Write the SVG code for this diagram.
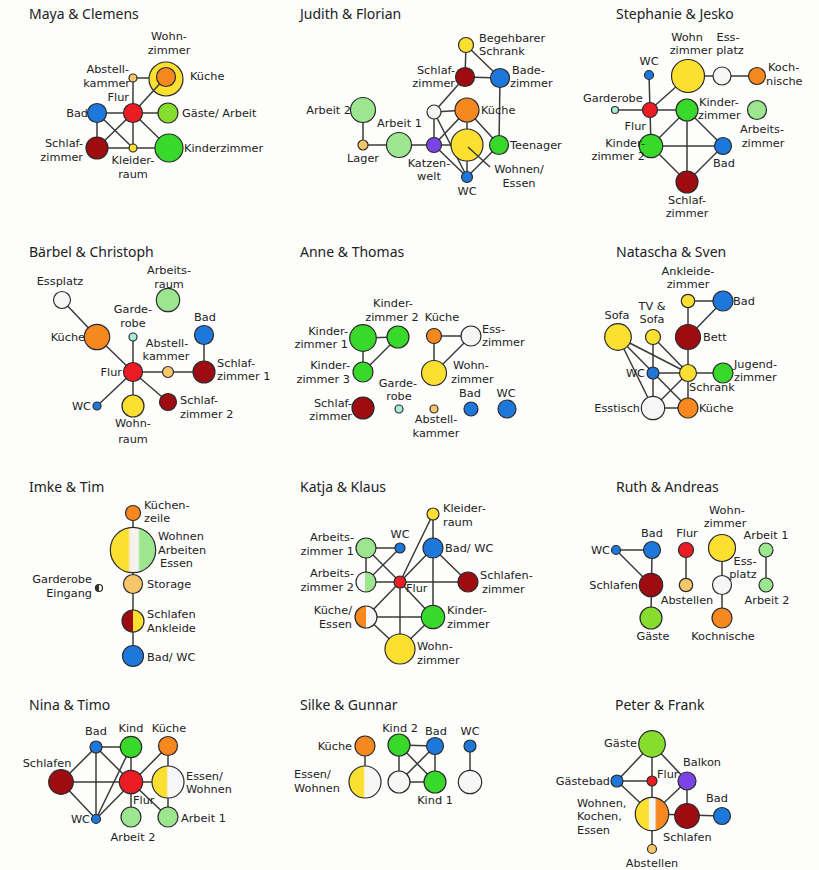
<svg xmlns="http://www.w3.org/2000/svg" width="819" height="870" viewBox="0 0 819 870">
  <defs>
    <style>
      .t { font-family: "Noto Sans", "Liberation Sans", sans-serif; font-size: 14px; fill: #222; }
      .l { font-family: "DejaVu Sans", "Liberation Sans", sans-serif; font-size: 11.3px; fill: #222; }
      .m { text-anchor: middle; }
      .e { text-anchor: end; }
      circle { stroke: #2b2b2b; stroke-width: 1.2; }
      #connectors line, .lead { stroke: #3a3a3a; stroke-width: 1.5; fill: none; }
      .red { fill: #ec1c24; }
      .dred { fill: #9e0b10; }
      .blue { fill: #1e78dc; }
      .yel { fill: #fbe032; }
      .org { fill: #f7881f; }
      .grn { fill: #38d92b; }
      .lime { fill: #86dd2d; }
      .lgrn { fill: #9be68f; }
      .pale { fill: #f6c66a; }
      .wht { fill: #f6f6f6; }
      .pur { fill: #7b45e6; }
      .cyan { fill: #a6ecd8; }
    </style>
    <linearGradient id="g-yw" x1="0" y1="0" x2="1" y2="0">
      <stop offset="0" stop-color="#fbe032"/><stop offset="0.45" stop-color="#fbe032"/>
      <stop offset="0.5" stop-color="#f6f6f6"/><stop offset="1" stop-color="#f6f6f6"/>
    </linearGradient>
    <linearGradient id="g-ow" x1="0" y1="0" x2="1" y2="0">
      <stop offset="0" stop-color="#f7881f"/><stop offset="0.5" stop-color="#f7881f"/>
      <stop offset="0.5" stop-color="#f6f6f6"/><stop offset="1" stop-color="#f6f6f6"/>
    </linearGradient>
    <linearGradient id="g-wg" x1="0" y1="0" x2="1" y2="0">
      <stop offset="0" stop-color="#f6f6f6"/><stop offset="0.45" stop-color="#f6f6f6"/>
      <stop offset="0.45" stop-color="#9be68f"/><stop offset="1" stop-color="#9be68f"/>
    </linearGradient>
    <linearGradient id="g-ry" x1="0" y1="0" x2="1" y2="0">
      <stop offset="0" stop-color="#9e0b10"/><stop offset="0.5" stop-color="#9e0b10"/>
      <stop offset="0.5" stop-color="#fbe032"/><stop offset="1" stop-color="#fbe032"/>
    </linearGradient>
    <linearGradient id="g-kw" x1="0" y1="0" x2="1" y2="0">
      <stop offset="0" stop-color="#333"/><stop offset="0.5" stop-color="#333"/>
      <stop offset="0.5" stop-color="#f6f6f6"/><stop offset="1" stop-color="#f6f6f6"/>
    </linearGradient>
    <linearGradient id="g-ywg" x1="0" y1="0" x2="1" y2="0">
      <stop offset="0" stop-color="#fbe032"/><stop offset="0.38" stop-color="#fbe032"/>
      <stop offset="0.45" stop-color="#f7f1f0"/><stop offset="0.6" stop-color="#f7f1f0"/>
      <stop offset="0.66" stop-color="#9be68f"/><stop offset="1" stop-color="#9be68f"/>
    </linearGradient>
    <linearGradient id="g-ywo" x1="0" y1="0" x2="1" y2="0">
      <stop offset="0" stop-color="#fbe032"/><stop offset="0.38" stop-color="#fbe032"/>
      <stop offset="0.44" stop-color="#f6f6f6"/><stop offset="0.58" stop-color="#f6f6f6"/>
      <stop offset="0.64" stop-color="#f7881f"/><stop offset="1" stop-color="#f7881f"/>
    </linearGradient>
  </defs>

  <rect width="819" height="870" fill="#fdfdfc"/>

  <!-- panel titles -->
  <g id="titles">
    <text class="t" x="29" y="19">Maya &amp; Clemens</text>
    <text class="t" x="300" y="19">Judith &amp; Florian</text>
    <text class="t" x="616" y="19">Stephanie &amp; Jesko</text>
    <text class="t" x="29" y="257">Bärbel &amp; Christoph</text>
    <text class="t" x="300" y="257">Anne &amp; Thomas</text>
    <text class="t" x="616" y="257">Natascha &amp; Sven</text>
    <text class="t" x="29" y="492">Imke &amp; Tim</text>
    <text class="t" x="300" y="492">Katja &amp; Klaus</text>
    <text class="t" x="616" y="492">Ruth &amp; Andreas</text>
    <text class="t" x="29" y="710">Nina &amp; Timo</text>
    <text class="t" x="300" y="710">Silke &amp; Gunnar</text>
    <text class="t" x="615" y="710">Peter &amp; Frank</text>
  </g>

  <!-- outer ring drawn below the connectors so the Flur edge crosses it -->
  <g id="mc-wohnzimmer">
    <circle class="yel" cx="166" cy="79" r="17"/>
    <text class="l m"><tspan x="169" y="40">Wohn-</tspan><tspan x="169" y="54">zimmer</tspan></text>
  </g>

  <g id="connectors">
    <!-- Maya & Clemens -->
    <line x1="133" y1="78" x2="149" y2="78"/>
    <line x1="133" y1="78" x2="133" y2="113"/>
    <line x1="133" y1="113" x2="166" y2="77"/>
    <line x1="97" y1="113" x2="168" y2="113"/>
    <line x1="97" y1="113" x2="97" y2="148"/>
    <line x1="97" y1="113" x2="133" y2="148"/>
    <line x1="133" y1="113" x2="97" y2="148"/>
    <line x1="133" y1="113" x2="133" y2="148"/>
    <line x1="133" y1="113" x2="169" y2="148"/>
    <line x1="97" y1="148" x2="169" y2="148"/>
    <!-- Judith & Florian -->
    <line x1="466" y1="45" x2="465" y2="77"/>
    <line x1="466" y1="45" x2="500" y2="78"/>
    <line x1="465" y1="77" x2="500" y2="78"/>
    <line x1="465" y1="77" x2="434" y2="112"/>
    <line x1="500" y1="78" x2="499" y2="145"/>
    <line x1="434" y1="112" x2="467" y2="110"/>
    <line x1="434" y1="112" x2="434" y2="145"/>
    <line x1="434" y1="112" x2="467" y2="177"/>
    <line x1="434" y1="145" x2="467" y2="110"/>
    <line x1="434" y1="145" x2="467" y2="145"/>
    <line x1="467" y1="110" x2="499" y2="145"/>
    <line x1="467" y1="110" x2="467" y2="177"/>
    <line x1="434" y1="145" x2="467" y2="177"/>
    <line x1="499" y1="145" x2="467" y2="177"/>
    <line x1="363" y1="110" x2="363" y2="145"/>
    <line x1="363" y1="145" x2="434" y2="145"/>
    <!-- Stephanie & Jesko -->
    <line x1="688" y1="76" x2="757" y2="76"/>
    <line x1="649" y1="75" x2="650" y2="110"/>
    <line x1="615" y1="110" x2="687" y2="110"/>
    <line x1="650" y1="110" x2="688" y2="76"/>
    <line x1="650" y1="110" x2="651" y2="146"/>
    <line x1="687" y1="110" x2="651" y2="146"/>
    <line x1="687" y1="110" x2="723" y2="146"/>
    <line x1="687" y1="110" x2="687" y2="182"/>
    <line x1="651" y1="146" x2="723" y2="146"/>
    <line x1="651" y1="146" x2="687" y2="182"/>
    <line x1="723" y1="146" x2="687" y2="182"/>
    <!-- Bärbel & Christoph -->
    <line x1="62" y1="300" x2="97" y2="337"/>
    <line x1="97" y1="337" x2="133" y2="372"/>
    <line x1="133" y1="337" x2="133" y2="406"/>
    <line x1="133" y1="372" x2="204" y2="372"/>
    <line x1="204" y1="335" x2="204" y2="372"/>
    <line x1="133" y1="372" x2="97" y2="406"/>
    <line x1="133" y1="372" x2="168" y2="402"/>
    <!-- Anne & Thomas -->
    <line x1="363" y1="338" x2="398" y2="337"/>
    <line x1="363" y1="338" x2="363" y2="372"/>
    <line x1="398" y1="337" x2="363" y2="372"/>
    <line x1="434" y1="336" x2="471" y2="336"/>
    <line x1="434" y1="336" x2="434" y2="373"/>
    <line x1="471" y1="336" x2="434" y2="373"/>
    <!-- Natascha & Sven -->
    <line x1="688" y1="301" x2="723" y2="301"/>
    <line x1="688" y1="301" x2="688" y2="373"/>
    <line x1="723" y1="301" x2="688" y2="337"/>
    <line x1="618" y1="337" x2="688" y2="373"/>
    <line x1="618" y1="337" x2="688" y2="408"/>
    <line x1="618" y1="337" x2="653" y2="408"/>
    <line x1="653" y1="337" x2="653" y2="408"/>
    <line x1="653" y1="337" x2="688" y2="373"/>
    <line x1="653" y1="373" x2="723" y2="373"/>
    <line x1="688" y1="373" x2="653" y2="408"/>
    <line x1="688" y1="373" x2="688" y2="408"/>
    <line x1="653" y1="408" x2="688" y2="408"/>
    <!-- Imke & Tim -->
    <line x1="133" y1="513" x2="133" y2="656"/>
    <!-- Katja & Klaus -->
    <line x1="366" y1="548" x2="400" y2="548"/>
    <line x1="366" y1="548" x2="366" y2="582"/>
    <line x1="366" y1="548" x2="400" y2="582"/>
    <line x1="400" y1="548" x2="366" y2="582"/>
    <line x1="433" y1="514" x2="400" y2="582"/>
    <line x1="433" y1="514" x2="433" y2="617"/>
    <line x1="433" y1="548" x2="400" y2="582"/>
    <line x1="433" y1="548" x2="468" y2="582"/>
    <line x1="366" y1="582" x2="468" y2="582"/>
    <line x1="400" y1="582" x2="366" y2="617"/>
    <line x1="400" y1="582" x2="433" y2="617"/>
    <line x1="400" y1="582" x2="400" y2="649"/>
    <line x1="366" y1="617" x2="433" y2="617"/>
    <line x1="366" y1="617" x2="400" y2="649"/>
    <line x1="433" y1="617" x2="400" y2="649"/>
    <!-- Ruth & Andreas -->
    <line x1="616" y1="550" x2="652" y2="550"/>
    <line x1="616" y1="550" x2="651" y2="585"/>
    <line x1="652" y1="550" x2="651" y2="618"/>
    <line x1="686" y1="550" x2="686" y2="585"/>
    <line x1="722" y1="548" x2="722" y2="618"/>
    <line x1="766" y1="550" x2="766" y2="585"/>
    <!-- Nina & Timo -->
    <line x1="96" y1="747" x2="131" y2="747"/>
    <line x1="96" y1="747" x2="61" y2="782"/>
    <line x1="96" y1="747" x2="96" y2="819"/>
    <line x1="96" y1="747" x2="131" y2="782"/>
    <line x1="61" y1="782" x2="168" y2="782"/>
    <line x1="61" y1="782" x2="96" y2="819"/>
    <line x1="131" y1="747" x2="131" y2="817"/>
    <line x1="131" y1="747" x2="96" y2="819"/>
    <line x1="96" y1="819" x2="168" y2="746"/>
    <line x1="168" y1="746" x2="168" y2="817"/>
    <line x1="131" y1="782" x2="168" y2="817"/>
    <!-- Silke & Gunnar -->
    <line x1="365" y1="746" x2="365" y2="782"/>
    <line x1="399" y1="745" x2="435" y2="746"/>
    <line x1="399" y1="745" x2="399" y2="782"/>
    <line x1="399" y1="745" x2="435" y2="782"/>
    <line x1="435" y1="746" x2="399" y2="782"/>
    <line x1="435" y1="746" x2="435" y2="782"/>
    <line x1="399" y1="782" x2="435" y2="782"/>
    <line x1="470" y1="746" x2="470" y2="782"/>
    <!-- Peter & Frank -->
    <line x1="652" y1="744" x2="617" y2="781"/>
    <line x1="652" y1="744" x2="652" y2="849"/>
    <line x1="652" y1="744" x2="687" y2="781"/>
    <line x1="617" y1="781" x2="652" y2="781"/>
    <line x1="617" y1="781" x2="652" y2="814"/>
    <line x1="687" y1="781" x2="652" y2="814"/>
    <line x1="687" y1="781" x2="687" y2="816"/>
    <line x1="652" y1="814" x2="722" y2="816"/>
  </g>

  <!-- Maya & Clemens -->
  <g id="mc-kueche"><circle class="org" cx="166" cy="77" r="9.5"/><text class="l" x="190" y="80">Küche</text></g>
  <g id="mc-abstell"><circle class="pale" cx="133" cy="78" r="4"/><text class="l e"><tspan x="129" y="73">Abstell-</tspan><tspan x="130" y="86.5">kammer</tspan></text></g>
  <g id="mc-flur"><circle class="red" cx="133" cy="113" r="9.5"/><text class="l e" x="129" y="101">Flur</text></g>
  <g id="mc-bad"><circle class="blue" cx="97" cy="113" r="9.5"/><text class="l e" x="88" y="117">Bad</text></g>
  <g id="mc-gaeste"><circle class="lime" cx="168" cy="113" r="10"/><text class="l" x="182" y="117">Gäste/ Arbeit</text></g>
  <g id="mc-schlaf"><circle class="dred" cx="97" cy="148" r="11"/><text class="l e"><tspan x="83" y="147">Schlaf-</tspan><tspan x="83" y="161">zimmer</tspan></text></g>
  <g id="mc-kleider"><circle class="yel" cx="133" cy="148" r="4"/><text class="l m"><tspan x="133" y="164">Kleider-</tspan><tspan x="133" y="178">raum</tspan></text></g>
  <g id="mc-kinder"><circle class="grn" cx="169" cy="148" r="14"/><text class="l" x="184" y="152">Kinderzimmer</text></g>

  <!-- Judith & Florian -->
  <g id="jf-schrank"><circle class="yel" cx="466" cy="45" r="7.5"/><text class="l"><tspan x="479" y="41.5">Begehbarer</tspan><tspan x="479" y="55">Schrank</tspan></text></g>
  <g id="jf-schlaf"><circle class="dred" cx="465" cy="77" r="9.5"/><text class="l e"><tspan x="455" y="73.5">Schlaf-</tspan><tspan x="455" y="87">zimmer</tspan></text></g>
  <g id="jf-bad"><circle class="blue" cx="500" cy="78" r="9.5"/><text class="l"><tspan x="512" y="73.5">Bade-</tspan><tspan x="510" y="87">zimmer</tspan></text></g>
  <g id="jf-leer"><circle class="wht" cx="434" cy="112" r="7"/></g>
  <g id="jf-kueche"><circle class="org" cx="467" cy="110" r="12"/><text class="l" x="481" y="114">Küche</text></g>
  <g id="jf-arbeit2"><circle class="lgrn" cx="363" cy="110" r="12.5"/><text class="l e" x="351" y="114">Arbeit 2</text></g>
  <g id="jf-lager"><circle class="pale" cx="363" cy="145" r="5"/><text class="l m" x="363" y="162">Lager</text></g>
  <g id="jf-arbeit1"><circle class="lgrn" cx="399" cy="145" r="12.5"/><text class="l" x="377" y="127">Arbeit 1</text></g>
  <g id="jf-katzen"><circle class="pur" cx="434" cy="145" r="7.5"/><text class="l m"><tspan x="429" y="166.5">Katzen-</tspan><tspan x="429" y="180">welt</tspan></text></g>
  <g id="jf-wohnen"><circle class="yel" cx="467" cy="145" r="16"/><path class="lead" d="M468 147 L490 167"/><text class="l m"><tspan x="519" y="173">Wohnen/</tspan><tspan x="519" y="187">Essen</tspan></text></g>
  <g id="jf-teen"><circle class="grn" cx="499" cy="145" r="9.5"/><text class="l" x="510" y="149">Teenager</text></g>
  <g id="jf-wc"><circle class="blue" cx="467" cy="177" r="5.5"/><text class="l m" x="467" y="195">WC</text></g>

  <!-- Stephanie & Jesko -->
  <g id="sj-wohn"><circle class="yel" cx="688" cy="76" r="16.5"/><text class="l m"><tspan x="687" y="40.5">Wohn</tspan><tspan x="691" y="54">zimmer</tspan></text></g>
  <g id="sj-ess"><circle class="wht" cx="722" cy="76" r="9"/><text class="l m"><tspan x="728" y="40.5">Ess-</tspan><tspan x="730" y="54">platz</tspan></text></g>
  <g id="sj-koch"><circle class="org" cx="757" cy="76" r="8.5"/><text class="l"><tspan x="768" y="71">Koch-</tspan><tspan x="766" y="85">nische</tspan></text></g>
  <g id="sj-wc"><circle class="blue" cx="649" cy="75" r="4.5"/><text class="l m" x="649" y="65">WC</text></g>
  <g id="sj-garderobe"><circle class="cyan" cx="615" cy="110" r="3.5"/><text class="l" x="583" y="102">Garderobe</text></g>
  <g id="sj-flur"><circle class="red" cx="650" cy="110" r="7.5"/><text class="l e" x="646" y="130">Flur</text></g>
  <g id="sj-kinder"><circle class="grn" cx="687" cy="110" r="11"/><text class="l"><tspan x="699" y="105.5">Kinder-</tspan><tspan x="698" y="119">zimmer</tspan></text></g>
  <g id="sj-arbeit"><circle class="lgrn" cx="757" cy="110" r="9.5"/><text class="l m"><tspan x="762" y="133">Arbeits-</tspan><tspan x="763" y="147">zimmer</tspan></text></g>
  <g id="sj-kinder2"><circle class="grn" cx="651" cy="146" r="11.7"/><text class="l e"><tspan x="645" y="146.5">Kinder-</tspan><tspan x="645" y="160">zimmer 2</tspan></text></g>
  <g id="sj-bad"><circle class="blue" cx="723" cy="146" r="8.5"/><text class="l m" x="724" y="167">Bad</text></g>
  <g id="sj-schlaf"><circle class="dred" cx="687" cy="182" r="11"/><text class="l m"><tspan x="687" y="203.5">Schlaf-</tspan><tspan x="687" y="217">zimmer</tspan></text></g>

  <!-- Bärbel & Christoph -->
  <g id="bc-ess"><circle class="wht" cx="62" cy="300" r="8.5"/><text class="l m" x="60" y="285">Essplatz</text></g>
  <g id="bc-arbeit"><circle class="lgrn" cx="168" cy="300" r="11.7"/><text class="l m"><tspan x="169" y="274">Arbeits-</tspan><tspan x="169" y="288">raum</tspan></text></g>
  <g id="bc-garderobe"><circle class="cyan" cx="133" cy="337" r="4"/><text class="l m"><tspan x="133" y="313">Garde-</tspan><tspan x="133" y="327">robe</tspan></text></g>
  <g id="bc-bad"><circle class="blue" cx="204" cy="335" r="9.5"/><text class="l m" x="205" y="321">Bad</text></g>
  <g id="bc-kueche"><circle class="org" cx="97" cy="337" r="12.7"/><text class="l e" x="85" y="341">Küche</text></g>
  <g id="bc-flur"><circle class="red" cx="133" cy="372" r="9.5"/><text class="l e" x="122" y="376">Flur</text></g>
  <g id="bc-abstell"><circle class="pale" cx="168" cy="372" r="5.5"/><text class="l m"><tspan x="167" y="346.5">Abstell-</tspan><tspan x="166" y="360">kammer</tspan></text></g>
  <g id="bc-schlaf1"><circle class="dred" cx="204" cy="372" r="11"/><text class="l"><tspan x="217" y="366.5">Schlaf-</tspan><tspan x="217" y="380">zimmer 1</tspan></text></g>
  <g id="bc-wc"><circle class="blue" cx="97" cy="406" r="4"/><text class="l e" x="91" y="410">WC</text></g>
  <g id="bc-wohn"><circle class="yel" cx="133" cy="406" r="11"/><text class="l m"><tspan x="133" y="427">Wohn-</tspan><tspan x="133" y="443">raum</tspan></text></g>
  <g id="bc-schlaf2"><circle class="dred" cx="168" cy="402" r="8.5"/><text class="l"><tspan x="180" y="404">Schlaf-</tspan><tspan x="180" y="418">zimmer 2</tspan></text></g>

  <!-- Anne & Thomas -->
  <g id="at-kinder1"><circle class="grn" cx="363" cy="338" r="13.3"/><text class="l e"><tspan x="348" y="334.5">Kinder-</tspan><tspan x="348" y="348">zimmer 1</tspan></text></g>
  <g id="at-kinder2"><circle class="grn" cx="398" cy="337" r="11"/><text class="l m"><tspan x="393" y="307">Kinder-</tspan><tspan x="392" y="321">zimmer 2</tspan></text></g>
  <g id="at-kueche"><circle class="org" cx="434" cy="336" r="7.5"/><text class="l m" x="442" y="321">Küche</text></g>
  <g id="at-ess"><circle class="wht" cx="471" cy="336" r="10"/><text class="l"><tspan x="482" y="332.5">Ess-</tspan><tspan x="482" y="346">zimmer</tspan></text></g>
  <g id="at-kinder3"><circle class="grn" cx="363" cy="372" r="10"/><text class="l e"><tspan x="350" y="369">Kinder-</tspan><tspan x="350" y="383">zimmer 3</tspan></text></g>
  <g id="at-wohn"><circle class="yel" cx="434" cy="373" r="12.5"/><text class="l"><tspan x="453" y="369">Wohn-</tspan><tspan x="451" y="383">zimmer</tspan></text></g>
  <g id="at-garderobe"><circle class="cyan" cx="399" cy="409" r="4"/><text class="l m"><tspan x="398" y="386.5">Garde-</tspan><tspan x="399" y="400">robe</tspan></text></g>
  <g id="at-abstell"><circle class="pale" cx="434" cy="409" r="4"/><text class="l m"><tspan x="436" y="423">Abstell-</tspan><tspan x="436" y="437">kammer</tspan></text></g>
  <g id="at-bad"><circle class="blue" cx="471" cy="409" r="7"/><text class="l m" x="470" y="397">Bad</text></g>
  <g id="at-wc"><circle class="blue" cx="507" cy="409" r="9"/><text class="l m" x="506" y="397">WC</text></g>
  <g id="at-schlaf"><circle class="dred" cx="363" cy="408" r="11"/><text class="l e"><tspan x="352" y="406.5">Schlaf-</tspan><tspan x="352" y="420">zimmer</tspan></text></g>

  <!-- Natascha & Sven -->
  <g id="ns-ankleide"><circle class="yel" cx="688" cy="301" r="6.7"/><text class="l m"><tspan x="688" y="274.5">Ankleide-</tspan><tspan x="688" y="288">zimmer</tspan></text></g>
  <g id="ns-bad"><circle class="blue" cx="723" cy="301" r="10"/><text class="l" x="733" y="305">Bad</text></g>
  <g id="ns-sofa"><circle class="yel" cx="618" cy="337" r="13.3"/><text class="l m" x="617" y="319">Sofa</text></g>
  <g id="ns-tv"><circle class="yel" cx="653" cy="337" r="7.5"/><text class="l m"><tspan x="652" y="309.5">TV &amp;</tspan><tspan x="652" y="323">Sofa</tspan></text></g>
  <g id="ns-bett"><circle class="dred" cx="688" cy="337" r="12.5"/><text class="l" x="703" y="341">Bett</text></g>
  <g id="ns-wc"><circle class="blue" cx="653" cy="373" r="6"/><text class="l e" x="645" y="377">WC</text></g>
  <g id="ns-schrank"><circle class="yel" cx="688" cy="373" r="8.5"/><text class="l" x="689" y="391">Schrank</text></g>
  <g id="ns-jugend"><circle class="grn" cx="723" cy="373" r="10"/><text class="l"><tspan x="734" y="367.5">Jugend-</tspan><tspan x="734" y="381">zimmer</tspan></text></g>
  <g id="ns-esstisch"><circle class="wht" cx="653" cy="408" r="11.7"/><text class="l e" x="640" y="412">Esstisch</text></g>
  <g id="ns-kueche"><circle class="org" cx="688" cy="408" r="10"/><text class="l" x="699" y="412">Küche</text></g>

  <!-- Imke & Tim -->
  <g id="it-kueche"><circle class="org" cx="133" cy="513" r="7.5"/><text class="l"><tspan x="144" y="508.5">Küchen-</tspan><tspan x="144" y="522">zeile</tspan></text></g>
  <g id="it-wohnen"><circle fill="url(#g-ywg)" cx="133" cy="550" r="22.7"/><text class="l"><tspan x="158" y="540">Wohnen</tspan><tspan x="158" y="553.5">Arbeiten</tspan><tspan x="160" y="567">Essen</tspan></text></g>
  <g id="it-storage"><circle class="pale" cx="133" cy="584" r="9.5"/><text class="l" x="147" y="588">Storage</text></g>
  <g id="it-garderobe"><circle fill="url(#g-kw)" cx="99" cy="588" r="3.5"/><text class="l e"><tspan x="92" y="583">Garderobe</tspan><tspan x="92" y="597">Eingang</tspan></text></g>
  <g id="it-schlafen"><circle fill="url(#g-ry)" cx="133" cy="621" r="11"/><text class="l"><tspan x="147" y="618">Schlafen</tspan><tspan x="147" y="632">Ankleide</tspan></text></g>
  <g id="it-bad"><circle class="blue" cx="133" cy="656" r="10.5"/><text class="l" x="147" y="661">Bad/ WC</text></g>

  <!-- Katja & Klaus -->
  <g id="kk-kleider"><circle class="yel" cx="433" cy="514" r="6"/><text class="l"><tspan x="443" y="512">Kleider-</tspan><tspan x="443" y="526">raum</tspan></text></g>
  <g id="kk-wc"><circle class="blue" cx="400" cy="548" r="5"/><text class="l m" x="400" y="538">WC</text></g>
  <g id="kk-arbeit1"><circle class="lgrn" cx="366" cy="548" r="10"/><text class="l e"><tspan x="354" y="541">Arbeits-</tspan><tspan x="354" y="555">zimmer 1</tspan></text></g>
  <g id="kk-badwc"><circle class="blue" cx="433" cy="548" r="10"/><text class="l" x="445" y="552">Bad/ WC</text></g>
  <g id="kk-arbeit2"><circle fill="url(#g-wg)" cx="366" cy="582" r="10"/><text class="l e"><tspan x="354" y="577">Arbeits-</tspan><tspan x="354" y="591">zimmer 2</tspan></text></g>
  <g id="kk-flur"><circle class="red" cx="400" cy="582" r="6"/><text class="l" x="406" y="592">Flur</text></g>
  <g id="kk-schlafen"><circle class="dred" cx="468" cy="582" r="10"/><text class="l"><tspan x="480" y="579">Schlafen-</tspan><tspan x="482" y="593">zimmer</tspan></text></g>
  <g id="kk-kueche"><circle fill="url(#g-ow)" cx="366" cy="617" r="11"/><text class="l e"><tspan x="352" y="614">Küche/</tspan><tspan x="352" y="628">Essen</tspan></text></g>
  <g id="kk-kinder"><circle class="grn" cx="433" cy="617" r="11.7"/><text class="l"><tspan x="447" y="614">Kinder-</tspan><tspan x="447" y="628">zimmer</tspan></text></g>
  <g id="kk-wohn"><circle class="yel" cx="400" cy="649" r="15"/><text class="l"><tspan x="417" y="650">Wohn-</tspan><tspan x="417" y="664">zimmer</tspan></text></g>

  <!-- Ruth & Andreas -->
  <g id="ra-wc"><circle class="blue" cx="616" cy="550" r="4.5"/><text class="l e" x="610" y="554">WC</text></g>
  <g id="ra-bad"><circle class="blue" cx="652" cy="550" r="8.5"/><text class="l m" x="652" y="537">Bad</text></g>
  <g id="ra-flur"><circle class="red" cx="686" cy="550" r="7.5"/><text class="l m" x="687" y="537">Flur</text></g>
  <g id="ra-wohn"><circle class="yel" cx="722" cy="548" r="13.5"/><text class="l m"><tspan x="727" y="513.5">Wohn-</tspan><tspan x="725" y="527">zimmer</tspan></text></g>
  <g id="ra-arbeit1"><circle class="lgrn" cx="766" cy="550" r="7"/><text class="l m" x="766" y="539">Arbeit 1</text></g>
  <g id="ra-schlafen"><circle class="dred" cx="651" cy="585" r="11.7"/><text class="l e" x="638" y="589">Schlafen</text></g>
  <g id="ra-abstellen"><circle class="pale" cx="686" cy="585" r="6.7"/><text class="l m" x="687" y="604">Abstellen</text></g>
  <g id="ra-ess"><circle class="wht" cx="722" cy="585" r="9.5"/><text class="l m"><tspan x="745" y="564.5">Ess-</tspan><tspan x="743" y="578">platz</tspan></text></g>
  <g id="ra-arbeit2"><circle class="lgrn" cx="766" cy="585" r="7"/><text class="l m" x="767" y="604">Arbeit 2</text></g>
  <g id="ra-gaeste"><circle class="lime" cx="651" cy="618" r="11"/><text class="l m" x="653" y="640">Gäste</text></g>
  <g id="ra-koch"><circle class="org" cx="722" cy="618" r="10"/><text class="l m" x="723" y="640">Kochnische</text></g>

  <!-- Nina & Timo -->
  <g id="nt-bad"><circle class="blue" cx="96" cy="747" r="6"/><text class="l m" x="96" y="735">Bad</text></g>
  <g id="nt-kind"><circle class="grn" cx="131" cy="747" r="10.7"/><text class="l m" x="131" y="732">Kind</text></g>
  <g id="nt-kueche"><circle class="org" cx="168" cy="746" r="9.5"/><text class="l m" x="169" y="732">Küche</text></g>
  <g id="nt-schlafen"><circle class="dred" cx="61" cy="782" r="12.3"/><text class="l m" x="47" y="767">Schlafen</text></g>
  <g id="nt-flur"><circle class="red" cx="131" cy="782" r="11.7"/><text class="l" x="133" y="804">Flur</text></g>
  <g id="nt-essen"><circle fill="url(#g-yw)" cx="168" cy="782" r="16"/><text class="l"><tspan x="186" y="779.5">Essen/</tspan><tspan x="186" y="793">Wohnen</tspan></text></g>
  <g id="nt-wc"><circle class="blue" cx="96" cy="819" r="4.5"/><text class="l e" x="90" y="823">WC</text></g>
  <g id="nt-arbeit2"><circle class="lgrn" cx="131" cy="817" r="10"/><text class="l m" x="133" y="841">Arbeit 2</text></g>
  <g id="nt-arbeit1"><circle class="lgrn" cx="168" cy="817" r="10"/><text class="l" x="181" y="822">Arbeit 1</text></g>

  <!-- Silke & Gunnar -->
  <g id="sg-kueche"><circle class="org" cx="365" cy="746" r="10"/><text class="l e" x="352" y="750">Küche</text></g>
  <g id="sg-essen"><circle fill="url(#g-yw)" cx="365" cy="782" r="16"/><text class="l"><tspan x="294" y="778">Essen/</tspan><tspan x="294" y="792">Wohnen</tspan></text></g>
  <g id="sg-kind2"><circle class="grn" cx="399" cy="745" r="11"/><text class="l m" x="400" y="732">Kind 2</text></g>
  <g id="sg-bad"><circle class="blue" cx="435" cy="746" r="8.5"/><text class="l m" x="436" y="735">Bad</text></g>
  <g id="sg-wc"><circle class="blue" cx="470" cy="746" r="6"/><text class="l m" x="470" y="735">WC</text></g>
  <g id="sg-leer1"><circle class="wht" cx="399" cy="782" r="11"/></g>
  <g id="sg-kind1"><circle class="grn" cx="435" cy="782" r="11"/><text class="l m" x="435" y="804">Kind 1</text></g>
  <g id="sg-leer2"><circle class="wht" cx="470" cy="782" r="11.7"/></g>

  <!-- Peter & Frank -->
  <g id="pf-gaeste"><circle class="lime" cx="652" cy="744" r="13.3"/><text class="l e" x="637" y="747">Gäste</text></g>
  <g id="pf-gaestebad"><circle class="blue" cx="617" cy="781" r="6"/><text class="l e" x="610" y="785">Gästebad</text></g>
  <g id="pf-flur"><circle class="red" cx="652" cy="781" r="5"/><text class="l" x="657" y="778">Flur</text></g>
  <g id="pf-balkon"><circle class="pur" cx="687" cy="781" r="9"/><text class="l m" x="702" y="766">Balkon</text></g>
  <g id="pf-wohnen"><circle fill="url(#g-ywo)" cx="652" cy="814" r="16.7"/><text class="l"><tspan x="577" y="806.5">Wohnen,</tspan><tspan x="577" y="820">Kochen,</tspan><tspan x="577" y="833.5">Essen</tspan></text></g>
  <g id="pf-schlafen"><circle class="dred" cx="687" cy="816" r="12.3"/><text class="l" x="663" y="841">Schlafen</text></g>
  <g id="pf-bad"><circle class="blue" cx="722" cy="816" r="8.5"/><text class="l m" x="717" y="802">Bad</text></g>
  <g id="pf-abstellen"><circle class="pale" cx="652" cy="849" r="4.5"/><text class="l m" x="652" y="867">Abstellen</text></g>
</svg>
